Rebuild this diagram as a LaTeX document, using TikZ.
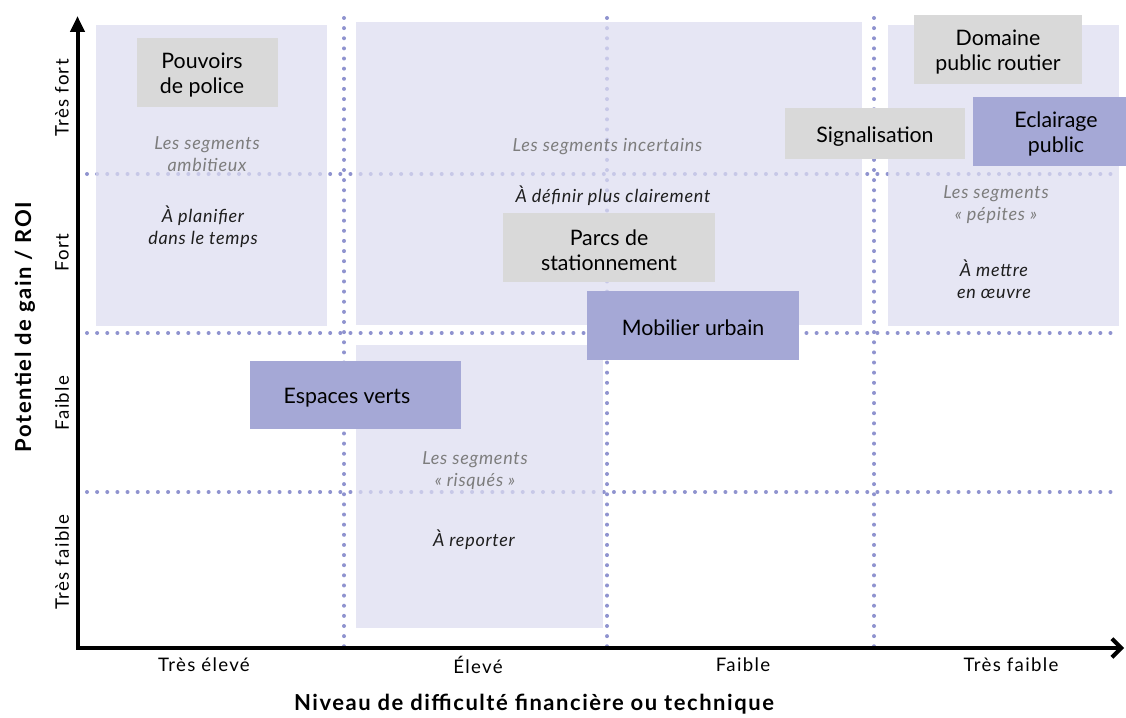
\documentclass[tikz,border=0pt]{standalone}
\usepackage{fontspec}
\setmainfont{Lato}
\newfontfamily\tickfont[LetterSpace=7]{Lato}
\newfontfamily\titlefont[LetterSpace=7]{Lato}
\newfontfamily\segfont[LetterSpace=4]{Lato}
\usetikzlibrary{arrows.meta}
\definecolor{dotc}{RGB}{143,147,207}
\definecolor{lav}{RGB}{221,221,241}
\definecolor{bluebox}{RGB}{165,168,214}
\definecolor{graybox}{RGB}{217,217,217}
\definecolor{segtxt}{RGB}{125,125,125}
\definecolor{acttxt}{RGB}{30,30,30}
\begin{document}
\begin{tikzpicture}[x=0.75pt,y=-0.75pt,
  dotline/.style={dotc, line width=3pt, line cap=round, dash pattern=on 0pt off 7.6pt},
  zone/.style={fill=lav, fill opacity=0.73},
  boxtext/.style={font=\fontsize{16}{18.75}\selectfont, align=center, inner sep=0pt, text=black, yshift=-2pt},
  gbox/.style={fill=graybox, inner sep=0pt},
  bbox/.style={fill=bluebox, inner sep=0pt},
  seg/.style={font=\segfont\itshape\fontsize{13.5}{16.5}\selectfont, align=center, text=segtxt, inner sep=0pt, yshift=-1.5pt},
  act/.style={font=\segfont\itshape\fontsize{13.5}{16.5}\selectfont, align=center, text=acttxt, inner sep=0pt, yshift=-1pt},
  tick/.style={font=\tickfont\fontsize{14}{16}\selectfont, inner sep=0pt},
  axtitle/.style={font=\titlefont\bfseries\fontsize{16.5}{19}\selectfont, inner sep=0pt}]
\useasboundingbox (0,0) rectangle (1126,717);
\fill[white] (0,0) rectangle (1126,717);
% grid
\foreach \yy in {174,333,492} \draw[dotline] (87,\yy) -- (1120,\yy);
\foreach \xx in {344,607,874} \draw[dotline] (\xx,18) -- (\xx,652);
% zones
\fill[zone] (96,25) rectangle (327,326);
\fill[zone] (356,22) rectangle (862,325);
\fill[zone] (888,25) rectangle (1119,326);
\fill[zone] (356,345) rectangle (603,628);
% zone texts
\node[seg] (ambT) at (207,152) {Les segments\\ambitieux};
\node[act] (ambA) at (203,225) {À planifier\\dans le temps};
\node[seg] (incT) at (607.5,145) {Les segments incertains};
\node[act] (incA) at (613,194) {À définir plus clairement};
\node[seg] (pepT) at (996,202.5) {Les segments\\« pépites »};
\node[act] (pepA) at (994,278) {À mettre\\en œuvre};
\node[seg] (risT) at (475,468.5) {Les segments\\« risqués »};
\node[act] (risA) at (474,538) {À reporter};
% boxes
\node[gbox, minimum width=105.75pt, minimum height=51.75pt] (police) at (207.5,72.5) {};
\node[boxtext] (policeT) at (202,72.5) {Pouvoirs\\de police};
\node[gbox, minimum width=126pt, minimum height=51.75pt] (domaine) at (998,49.5) {};
\node[boxtext] (domaineT) at (domaine.center) {Domaine\\public routier};
\node[gbox, minimum width=135pt, minimum height=38.25pt] (signal) at (875,133.5) {};
\node[boxtext] (signalT) at (signal.center) {Signalisation};
\node[bbox, minimum width=124.5pt, minimum height=51.75pt] (eclairage) at (1056,131.5) {};
\node[boxtext] (eclairageT) at (eclairage.center) {Eclairage\\public};
\node[gbox, minimum width=159pt, minimum height=51.75pt] (parcs) at (609,247.5) {};
\node[boxtext] (parcsT) at (parcs.center) {Parcs de\\stationnement};
\node[bbox, minimum width=159pt, minimum height=51.75pt] (mobilier) at (693,325.5) {};
\node[boxtext] (mobilierT) at (mobilier.center) {Mobilier urbain};
\node[bbox, minimum width=158.25pt, minimum height=51pt] (espaces) at (355.5,395) {};
\node[boxtext] (espacesT) at (347,395) {Espaces verts};
% axes
\coordinate (O) at (77.5,648);
\coordinate (ytip) at (77.5,16);
\coordinate (xtip) at (1124,648);
\draw[line width=3pt, line join=miter, {Triangle[width=10.5pt,length=12pt]}-{Straight Barb[length=7pt,width=14pt]}] (ytip) -- (O) -- (xtip);
% tick labels
\node[tick] (x1) at (204,665) {Très élevé};
\node[tick] (x2) at (478,665) {Élevé};
\node[tick] (x3) at (743,665) {Faible};
\node[tick] (x4) at (1011,665) {Très faible};
\node[tick, rotate=90] (y1) at (62,98) {Très fort};
\node[tick, rotate=90] (y2) at (62,253) {Fort};
\node[tick, rotate=90] (y3) at (62,403) {Faible};
\node[tick, rotate=90] (y4) at (62,562) {Très faible};
\node[axtitle] (xt) at (534,704) {Niveau de difficulté financière ou technique};
\node[axtitle, rotate=90] (yt) at (25,327) {Potentiel de gain / ROI};
\end{tikzpicture}
\end{document}
